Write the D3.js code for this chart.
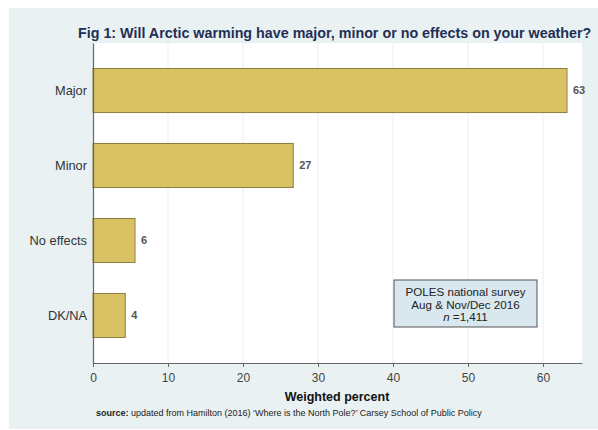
<!DOCTYPE html>
<html lang="en">
<head>
    <meta charset="UTF-8">
    <title>Arctic warming effects</title>
    <script src="https://cdn.jsdelivr.net/npm/d3@7"></script>
    <style>
        body { margin: 0; background: #fff; }
        svg { display: block; font-family: "Liberation Sans", Arial, sans-serif; }
    </style>
</head>
<body>
<div class="chart"></div>

<script type="text/javascript">
    // data
    var categories = ['Major', 'Minor', 'No effects', 'DK/NA'];
    var percents = [63.2, 26.7, 5.6, 4.3];
    var xTicks = [0, 10, 20, 30, 40, 50, 60];
    var noteLines = ['POLES national survey', 'Aug & Nov/Dec 2016'];

    var w = 598, h = 430;
    // plot edges (note: "top" is reserved on window, so prefixed)
    var plotL = 93, plotR = 582, plotT = 43, plotB = 363;

    var svg = d3.select('.chart').append('svg')
            .attr('width', w)
            .attr('height', h);

    // outer panel
    svg.append('rect')
            .attr('x', 9).attr('y', 8)
            .attr('width', w - 9).attr('height', 421)
            .attr('fill', '#e9f1f3');

    // plot region
    svg.append('rect')
            .attr('x', plotL).attr('y', plotT)
            .attr('width', plotR - plotL).attr('height', plotB - plotT)
            .attr('fill', '#fff');

    var x = d3.scaleLinear()
            .domain([0, 65.2])
            .range([plotL, plotR]);

    var y = d3.scaleBand()
            .domain(categories)
            .range([plotT, plotB])
            .paddingInner(0.413)
            .paddingOuter(0.34);

    // vertical grid lines
    svg.selectAll('line.grid')
            .data(xTicks.slice(1))
            .enter()
            .append('line')
            .attr('class', 'grid')
            .attr('x1', function(d) { return x(d); })
            .attr('x2', function(d) { return x(d); })
            .attr('y1', plotT)
            .attr('y2', plotB)
            .attr('stroke', '#e6eff2')
            .attr('stroke-width', 1);

    // bars
    svg.selectAll('rect.bar')
            .data(percents)
            .enter()
            .append('rect')
            .attr('class', 'bar')
            .attr('x', x(0))
            .attr('y', function(d, i) { return y(categories[i]); })
            .attr('width', function(d) { return x(d) - x(0); })
            .attr('height', y.bandwidth())
            .attr('fill', '#d9c264')
            .attr('stroke', '#8e7d42')
            .attr('stroke-width', 1);

    // value labels
    svg.selectAll('text.val')
            .data(percents)
            .enter()
            .append('text')
            .attr('class', 'val')
            .attr('x', function(d) { return x(d) + 6; })
            .attr('y', function(d, i) { return y(categories[i]) + y.bandwidth() / 2; })
            .attr('dy', '0.35em')
            .attr('font-size', 11)
            .attr('font-weight', 'bold')
            .attr('fill', '#555')
            .text(d3.format('.0f'));

    // x axis
    var xAxis = svg.append('g')
            .attr('transform', 'translate(0,' + plotB + ')')
            .call(d3.axisBottom(x).tickValues(xTicks).tickSize(4).tickSizeOuter(0).tickPadding(6));
    xAxis.select('.domain').attr('stroke', '#666').attr('stroke-width', 1.2);
    xAxis.selectAll('.tick line').attr('stroke', '#666');
    xAxis.selectAll('.tick text').attr('font-size', 12).attr('fill', '#444')
            .attr('font-family', '"Liberation Sans", Arial, sans-serif');

    // y axis
    var yAxis = svg.append('g')
            .attr('transform', 'translate(' + plotL + ',0)')
            .call(d3.axisLeft(y).tickSize(0).tickPadding(6));
    yAxis.select('.domain').attr('stroke', '#666').attr('stroke-width', 1.2);
    yAxis.selectAll('.tick text').attr('font-size', 12.8).attr('fill', '#333')
            .attr('font-family', '"Liberation Sans", Arial, sans-serif');

    // title
    svg.append('text')
            .attr('x', 78).attr('y', 38)
            .attr('font-size', 14.3)
            .attr('font-weight', 'bold')
            .attr('fill', '#1f2f55')
            .text('Fig 1: Will Arctic warming have major, minor or no effects on your weather?');

    // x axis title
    svg.append('text')
            .attr('x', 337).attr('y', 401)
            .attr('text-anchor', 'middle')
            .attr('font-size', 12.5)
            .attr('font-weight', 'bold')
            .attr('fill', '#111')
            .text('Weighted percent');

    // source note
    var src = svg.append('text')
            .attr('x', 96).attr('y', 416)
            .attr('font-size', 9)
            .attr('fill', '#222');
    src.append('tspan').attr('font-weight', 'bold').text('source:');
    src.append('tspan').text('  updated from Hamilton (2016) \u2018Where is the North Pole?\u2019  Carsey School of Public Policy');

    // survey box
    var bx = 394, by = 280, bw = 143, bh = 47;
    svg.append('rect')
            .attr('x', bx).attr('y', by)
            .attr('width', bw).attr('height', bh)
            .attr('fill', '#d9e7ee')
            .attr('stroke', '#555')
            .attr('stroke-width', 1);

    svg.selectAll('text.note')
            .data(noteLines)
            .enter()
            .append('text')
            .attr('class', 'note')
            .attr('x', bx + bw / 2)
            .attr('y', function(d, i) { return by + 16 + i * 12.5; })
            .attr('text-anchor', 'middle')
            .attr('font-size', 11.6)
            .attr('fill', '#222')
            .text(function(d) { return d; });

    var nLine = svg.append('text')
            .attr('x', bx + bw / 2)
            .attr('y', by + 41)
            .attr('text-anchor', 'middle')
            .attr('font-size', 11.6)
            .attr('fill', '#222');
    nLine.append('tspan').attr('font-style', 'italic').text('n');
    nLine.append('tspan').text(' =1,411');
</script>
</body>
</html>
